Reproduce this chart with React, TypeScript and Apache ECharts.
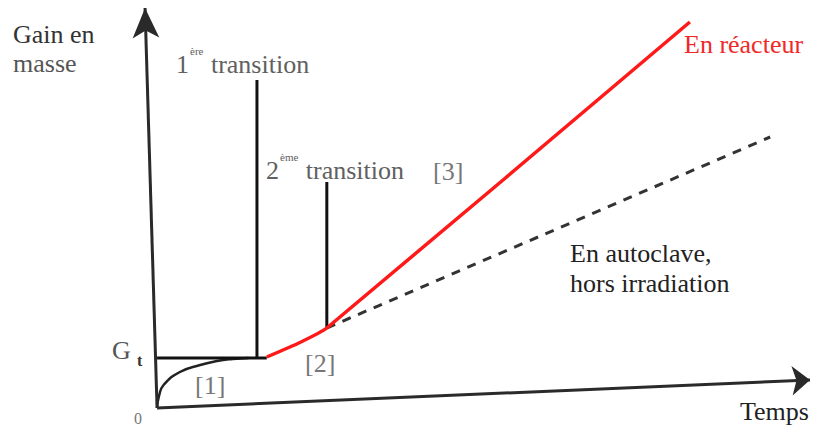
import React, { useEffect, useRef } from "react";
import * as echarts from "echarts";

// Axis geometry (data units: time 0..100, gain 0..100)
const yAxisArrow = [[0, 0], [-1.84, 100]];
const xAxisArrow = [[0, 0], [100, 7]];

// Curves
const initialGrowth = [[0, 0], [0.3, 3], [1, 5.75], [3.5, 9], [6.6, 10.75], [9.2, 11.75], [11.6, 12.25], [14, 12.5]];
const plateauGt = [[0, 12.5], [16.8, 12.5]];
const firstTransition = [[15.3, 12.5], [15.3, 82]];
const secondTransition = [[26, 20], [26, 56.5]];
const reactor = [[16.8, 12.75], [21.4, 16.0], [26, 20], [81.6, 96.5]];
const autoclave = [[26, 20], [93.9, 67.75]];

const SERIF = "'Liberation Serif', 'DejaVu Serif', serif";

export default function App() {
  const ref = useRef<HTMLDivElement>(null);
  useEffect(() => {
    if (!ref.current) return;
    const chart = echarts.init(ref.current, null, { renderer: "svg" });
    const txt = (text: string, x: number, y: number, size: number, fill: string, extra: any = {}) => ({
      type: "text",
      x,
      y,
      style: { text, fontSize: size, fontFamily: SERIF, fill, verticalAlign: "middle", align: "left", ...extra },
    });
    const supRich = (fill: string) => ({
      n: { fontSize: 26, fontFamily: SERIF, fill, color: fill },
      s: { fontSize: 11, fontFamily: SERIF, fill, color: fill, padding: [0, 1, 26, 1] },
    });
    chart.setOption({
      animation: false,
      backgroundColor: "#ffffff",
      grid: { left: 144, right: 4, top: 8, bottom: 22 },
      xAxis: { type: "value", min: -2, max: 100, show: false },
      yAxis: { type: "value", min: 0, max: 100, show: false },
      series: [
        {
          type: "line",
          data: [],
          markLine: {
            silent: true,
            symbol: ["none", "arrow"],
            label: { show: false },
            lineStyle: { color: "#2a2a2a", width: 3, type: "solid" },
            data: [
              [{ coord: yAxisArrow[0], symbolSize: 0 }, { coord: yAxisArrow[1], symbolSize: [20, 30] }],
              [{ coord: xAxisArrow[0], symbolSize: 0 }, { coord: xAxisArrow[1], symbolSize: [22, 18] }],
            ],
          },
        },
        { type: "line", data: initialGrowth, smooth: 0.5, symbol: "none", lineStyle: { color: "#222", width: 2.5 } },
        { type: "line", data: plateauGt, symbol: "none", lineStyle: { color: "#111", width: 3 } },
        { type: "line", data: firstTransition, symbol: "none", lineStyle: { color: "#111", width: 3 } },
        { type: "line", data: secondTransition, symbol: "none", lineStyle: { color: "#111", width: 3 } },
        { type: "line", data: autoclave, symbol: "none", lineStyle: { color: "#333", width: 3, type: [9, 8] } },
        { type: "line", data: reactor, smooth: 0.15, symbol: "none", lineStyle: { color: "#ff1a1a", width: 3.5 } },
      ],
      graphic: [
        txt("Gain en", 13, 34, 26, "#333"),
        txt("masse", 13, 63, 26, "#555"),
        {
          type: "text",
          x: 176,
          y: 64,
          style: { text: "{n|1}{s|ère}{n| transition}", rich: supRich("#606060"), verticalAlign: "middle", align: "left" },
        },
        {
          type: "text",
          x: 266,
          y: 170,
          style: { text: "{n|2}{s|ème}{n| transition}", rich: supRich("#606060"), verticalAlign: "middle", align: "left" },
        },
        txt("[3]", 433, 171, 26, "#777"),
        txt("[1]", 195, 385, 26, "#777"),
        txt("[2]", 305, 363, 26, "#777"),
        txt("G", 112, 350, 26, "#555"),
        txt("t", 137, 360, 16, "#333", { fontWeight: "bold" }),
        txt("0", 134, 418, 16, "#777"),
        txt("En réacteur", 684, 44, 26, "#f02828"),
        txt("En autoclave,", 570, 253, 26, "#222"),
        txt("hors irradiation", 570, 283, 26, "#222"),
        txt("Temps", 740, 411, 26, "#222"),
      ],
    });
    return () => chart.dispose();
  }, []);
  return <div ref={ref} style={{ width: 814, height: 430, position: "fixed", left: 0, top: 0 }} />;
}
